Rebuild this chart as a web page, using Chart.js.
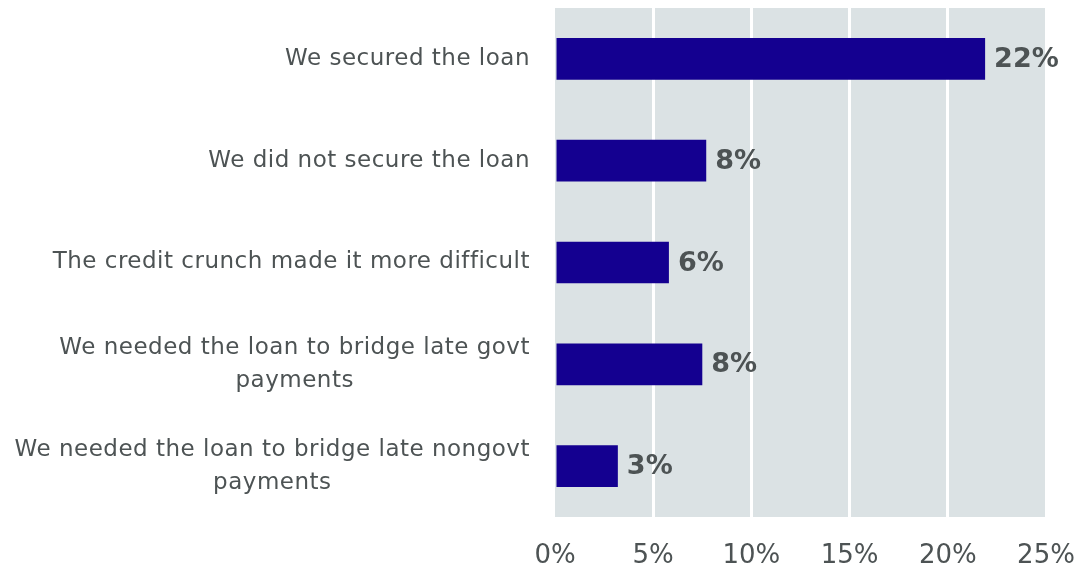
<!DOCTYPE html>
<html>
<head>
<meta charset="utf-8">
<script src="https://cdn.jsdelivr.net/npm/chart.js@4/dist/chart.umd.min.js"></script>
<style>
  html, body { margin: 0; padding: 0; background: #fff; }
  #caja { width: 1078px; height: 568px; }
</style>
</head>
<body>
<div id="caja"><canvas id="barras"></canvas></div>
<script>
// categorias (cada una en sus lineas) y porcentajes
const categorias = [
  ['We secured the loan'],
  ['We did not secure the loan'],
  ['The credit crunch made it more difficult'],
  ['We needed the loan to bridge late govt', 'payments'],
  ['We needed the loan to bridge late nongovt', 'payments']
];
const valores = [21.9, 7.7, 5.8, 7.5, 3.2];
const ticksX = [0, 5, 10, 15, 20, 25];

const fuente = 'DejaVu Sans, Verdana, sans-serif';
const gris = '#4d5354';

// fondo gris del area del grafico
const fondo = {
  id: 'fondo',
  beforeDraw(chart) {
    const a = chart.chartArea;
    const ctx = chart.ctx;
    ctx.save();
    ctx.fillStyle = '#dbe2e4';
    ctx.fillRect(a.left, a.top, a.right - a.left, a.bottom - a.top);
    ctx.restore();
  }
};

// etiquetas del eje y: alineadas a la derecha, segunda linea centrada
const etiquetasY = {
  id: 'etiquetasY',
  afterDraw(chart) {
    const ctx = chart.ctx;
    const y = chart.scales.y;
    const xDerecha = chart.chartArea.left - 25;
    const alto = 33;
    ctx.save();
    ctx.font = '23px ' + fuente;
    ctx.letterSpacing = '0.5px';
    ctx.fillStyle = gris;
    ctx.textAlign = 'center';
    ctx.textBaseline = 'middle';
    categorias.forEach((lineas, i) => {
      const ancho = Math.max(...lineas.map(l => ctx.measureText(l).width));
      const centro = y.getPixelForValue(i);
      const inicio = centro - (lineas.length - 1) * alto / 2;
      lineas.forEach((l, j) => {
        ctx.fillText(l, xDerecha - ancho / 2, inicio + j * alto);
      });
    });
    ctx.restore();
  }
};

// valor al final de cada barra
const valoresBarra = {
  id: 'valoresBarra',
  afterDatasetsDraw(chart) {
    const ctx = chart.ctx;
    const meta = chart.getDatasetMeta(0);
    ctx.save();
    ctx.font = 'bold 27px ' + fuente;
    ctx.fillStyle = gris;
    ctx.textAlign = 'left';
    ctx.textBaseline = 'middle';
    meta.data.forEach((barra, i) => {
      ctx.fillText(Math.round(valores[i]) + '%', barra.x + 9, barra.y + 1);
    });
    ctx.restore();
  }
};

new Chart(document.getElementById('barras'), {
  type: 'bar',
  data: {
    labels: categorias,
    datasets: [{
      data: valores,
      backgroundColor: '#140090',
      borderWidth: 0,
      categoryPercentage: 1,
      barPercentage: 0.41
    }]
  },
  options: {
    indexAxis: 'y',
    responsive: true,
    maintainAspectRatio: false,
    animation: false,
    layout: { padding: { top: 8, right: 0, bottom: 0, left: 0 } },
    plugins: { legend: { display: false }, tooltip: { enabled: false } },
    scales: {
      x: {
        min: 0,
        max: 25,
        afterBuildTicks(scale) {
          scale.ticks = ticksX.map(v => ({ value: v }));
        },
        afterFit(scale) {
          scale.height = 51;
          scale.paddingLeft = 0;
          scale.paddingRight = 32;
        },
        border: { display: false },
        grid: {
          color: ctx => ctx.index === 0 ? 'rgba(0,0,0,0)' : '#ffffff',
          lineWidth: 3,
          drawTicks: false
        },
        ticks: {
          padding: 24,
          color: gris,
          font: { family: fuente, size: 26 },
          maxRotation: 0,
          callback: v => v + '%'
        }
      },
      y: {
        afterFit(scale) { scale.width = 555; },
        border: { display: false },
        grid: { display: false },
        ticks: { display: false }
      }
    }
  },
  plugins: [fondo, etiquetasY, valoresBarra]
});
</script>
</body>
</html>
